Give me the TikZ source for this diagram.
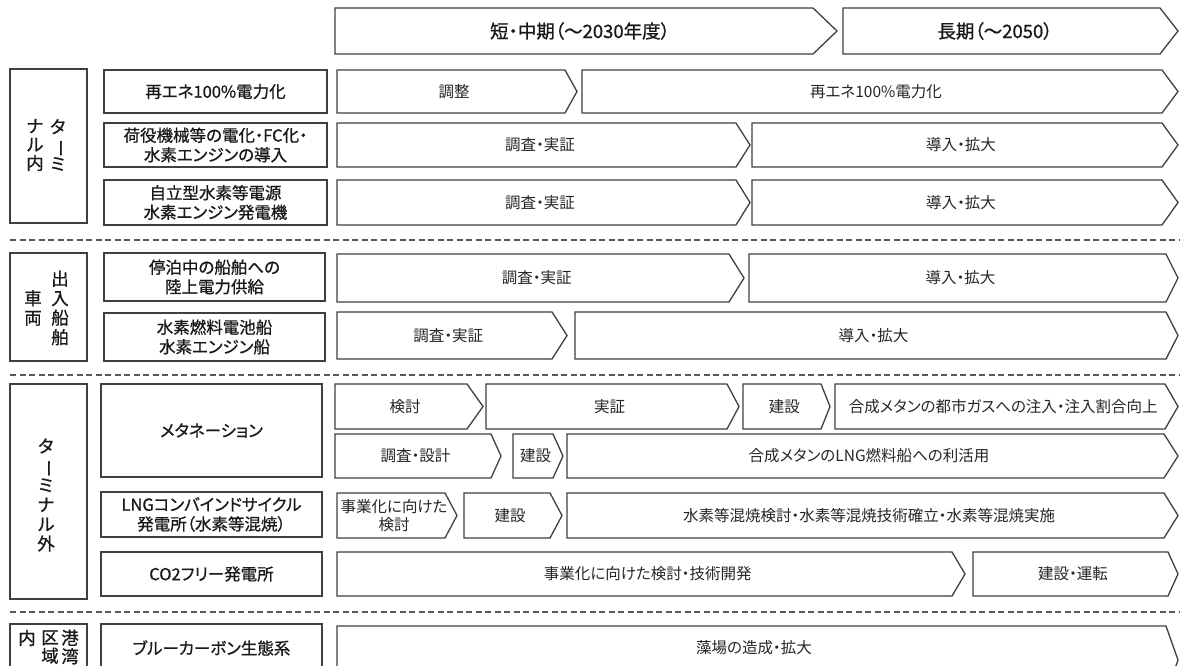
\documentclass[tikz,border=0pt]{standalone}
\usepackage{fontspec}
\setmainfont{Noto Sans CJK JP}[RawFeature=+palt]
\newfontfamily\jpmed{Noto Sans CJK JP}[FakeBold=0.8,RawFeature=+palt]
\newfontfamily\jpvert{Noto Sans CJK JP}[FakeBold=0.8]
\newcommand\tatebo{\rotatebox[origin=c]{-90}{ー}}
% #1 style, #2 name, #3 x1, #4 x tip, #5 y1, #6 y2, #7 tip depth, #8 text
\newcommand\tlarrow[8][rt]{%
  \draw[ln] (#3,#5) -- ({#4-#7},#5) -- (#4,{(#5+#6)/2}) -- ({#4-#7},#6) -- (#3,#6) -- cycle;
  \node[#1] (#2) at ({(#3+#4-#7/2)/2},{(#5+#6)/2}) {#8};}
% #1 name, #2 x1, #3 x2, #4 y1, #5 y2, #6 text
\newcommand\itembox[6]{%
  \draw[ln] (#2,#4) rectangle (#3,#5);
  \node[itm] (#1) at ({(#2+#3)/2},{(#4+#5)/2}) {#6};}
\begin{document}
\begin{tikzpicture}[x=1pt,y=-1pt,
  ln/.style={draw=black!75,line width=1.3pt,line join=miter},
  dsh/.style={draw=black!65,line width=1.1pt,dash pattern=on 6pt off 3.5pt},
  rt/.style={font=\fontsize{15.5}{17.5}\selectfont,align=center,text=black!85,inner sep=0pt},
  itm/.style={font=\jpmed\fontsize{16.5}{19.5}\selectfont,align=center,text=black!90,inner sep=0pt},
  hd/.style={font=\jpmed\fontsize{18.5}{20}\selectfont,text=black!90,inner sep=0pt},
  vt/.style={font=\jpvert\fontsize{17.5}{18.5}\selectfont,align=center,text=black!90,inner sep=0pt},
  vtb/.style={font=\jpvert\fontsize{17.5}{19.5}\selectfont,align=center,text=black!90,inner sep=0pt},
]
\fill[white] (0,0) rectangle (1180,665);
\clip (0,0) rectangle (1180,665);

% ---------- header ----------
\tlarrow[hd]{h1}{335}{837}{8}{54}{24}{短・中期（～2030年度）}
\draw[ln] (843,8) -- (1160,8) -- (1178,31) -- (1160,54) -- (843,54) -- cycle;
\node[hd] (h2) at (995,31) {長期（～2050）};

% ---------- section 1: terminal ----------
\draw[ln] (10,69) rectangle (87,223);
\node[vt] (s1a) at (58,145) {タ\\\tatebo\\ミ};
\node[vt] (s1b) at (35,145) {ナ\\ル\\内};

\itembox{i11}{104}{327}{70}{113}{再エネ100\%電力化}
\itembox{i12}{104}{327}{123}{167}{荷役機械等の電化・FC化・\\水素エンジンの導入}
\itembox{i13}{104}{327}{180}{225}{自立型水素等電源\\水素エンジン発電機}

\tlarrow{t11a}{337}{577}{70}{113}{12}{調整}
\tlarrow{t11b}{582}{1178}{70}{113}{16}{再エネ100\%電力化}
\tlarrow{t12a}{337}{750}{123}{167}{14}{調査・実証}
\tlarrow{t12b}{752}{1178}{123}{167}{16}{導入・拡大}
\tlarrow{t13a}{337}{750}{180}{225}{14}{調査・実証}
\tlarrow{t13b}{752}{1178}{180}{225}{16}{導入・拡大}

\draw[dsh] (10,240) -- (1180,240);

% ---------- section 2: ships ----------
\draw[ln] (10,253) rectangle (87,361);
\node[vtb] (s2a) at (60,308) {出\\入\\船\\舶};
\node[vtb] (s2b) at (33,308) {車\\両};

\itembox{i21}{104}{325}{253}{301}{停泊中の船舶への\\陸上電力供給}
\itembox{i22}{104}{325}{313}{361}{水素燃料電池船\\水素エンジン船}

\tlarrow{t21a}{337}{744}{254}{302}{15}{調査・実証}
\tlarrow{t21b}{749}{1178}{254}{302}{12}{導入・拡大}
\tlarrow{t22a}{337}{567}{312}{359}{15}{調査・実証}
\tlarrow{t22b}{575}{1178}{312}{359}{12}{導入・拡大}

\draw[dsh] (10,375) -- (1180,375);

% ---------- section 3: outside terminal ----------
\draw[ln] (10,384) rectangle (87,599);
\node[vtb] (s3a) at (46,495) {タ\\\tatebo\\ミ\\ナ\\ル\\外};

\itembox{i31}{101}{322}{384}{477}{メタネーション}
\itembox{i32}{101}{322}{492}{537}{LNGコンバインドサイクル\\発電所（水素等混焼）}
\itembox{i33}{101}{322}{552}{596}{CO2フリー発電所}

\tlarrow{t31a}{335}{483}{384}{429}{16}{検討}
\tlarrow{t31b}{486}{739}{384}{429}{12}{実証}
\tlarrow{t31c}{743}{830}{384}{429}{9}{建設}
\tlarrow{t31d}{835}{1178}{384}{429}{13}{合成メタンの都市ガスへの注入・注入割合向上}

\tlarrow{t32a}{335}{501}{434}{478}{10}{調査・設計}
\tlarrow{t32b}{513}{563}{434}{478}{10}{建設}
\tlarrow{t32c}{567}{1178}{434}{478}{14}{合成メタンのLNG燃料船への利活用}

\tlarrow{t33a}{337}{457}{493}{538}{12}{事業化に向けた\\検討}
\tlarrow{t33b}{464}{562}{493}{538}{12}{建設}
\tlarrow{t33c}{567}{1178}{493}{538}{14}{水素等混焼検討・水素等混焼技術確立・水素等混焼実施}

\tlarrow{t34a}{337}{965}{552}{596}{13}{事業化に向けた検討・技術開発}
\tlarrow{t34b}{973}{1178}{552}{596}{10}{建設・運転}

\draw[dsh] (10,612) -- (1180,612);

% ---------- section 4: port area ----------
\draw[ln] (10,624) rectangle (87,700);
\node[vt] (s4a) at (70,647) {港\\湾};
\node[vt] (s4b) at (50,647) {区\\域};
\node[vt] (s4c) at (27,638) {内};

\itembox{i41}{101}{322}{624}{672}{ブルーカーボン生態系}

\draw[ln] (337,626) -- (1166,626) -- (1178,660) -- (1166,694) -- (337,694) -- cycle;
\node[rt] (t41) at (754,648) {藻場の造成・拡大};

\end{tikzpicture}
\end{document}
